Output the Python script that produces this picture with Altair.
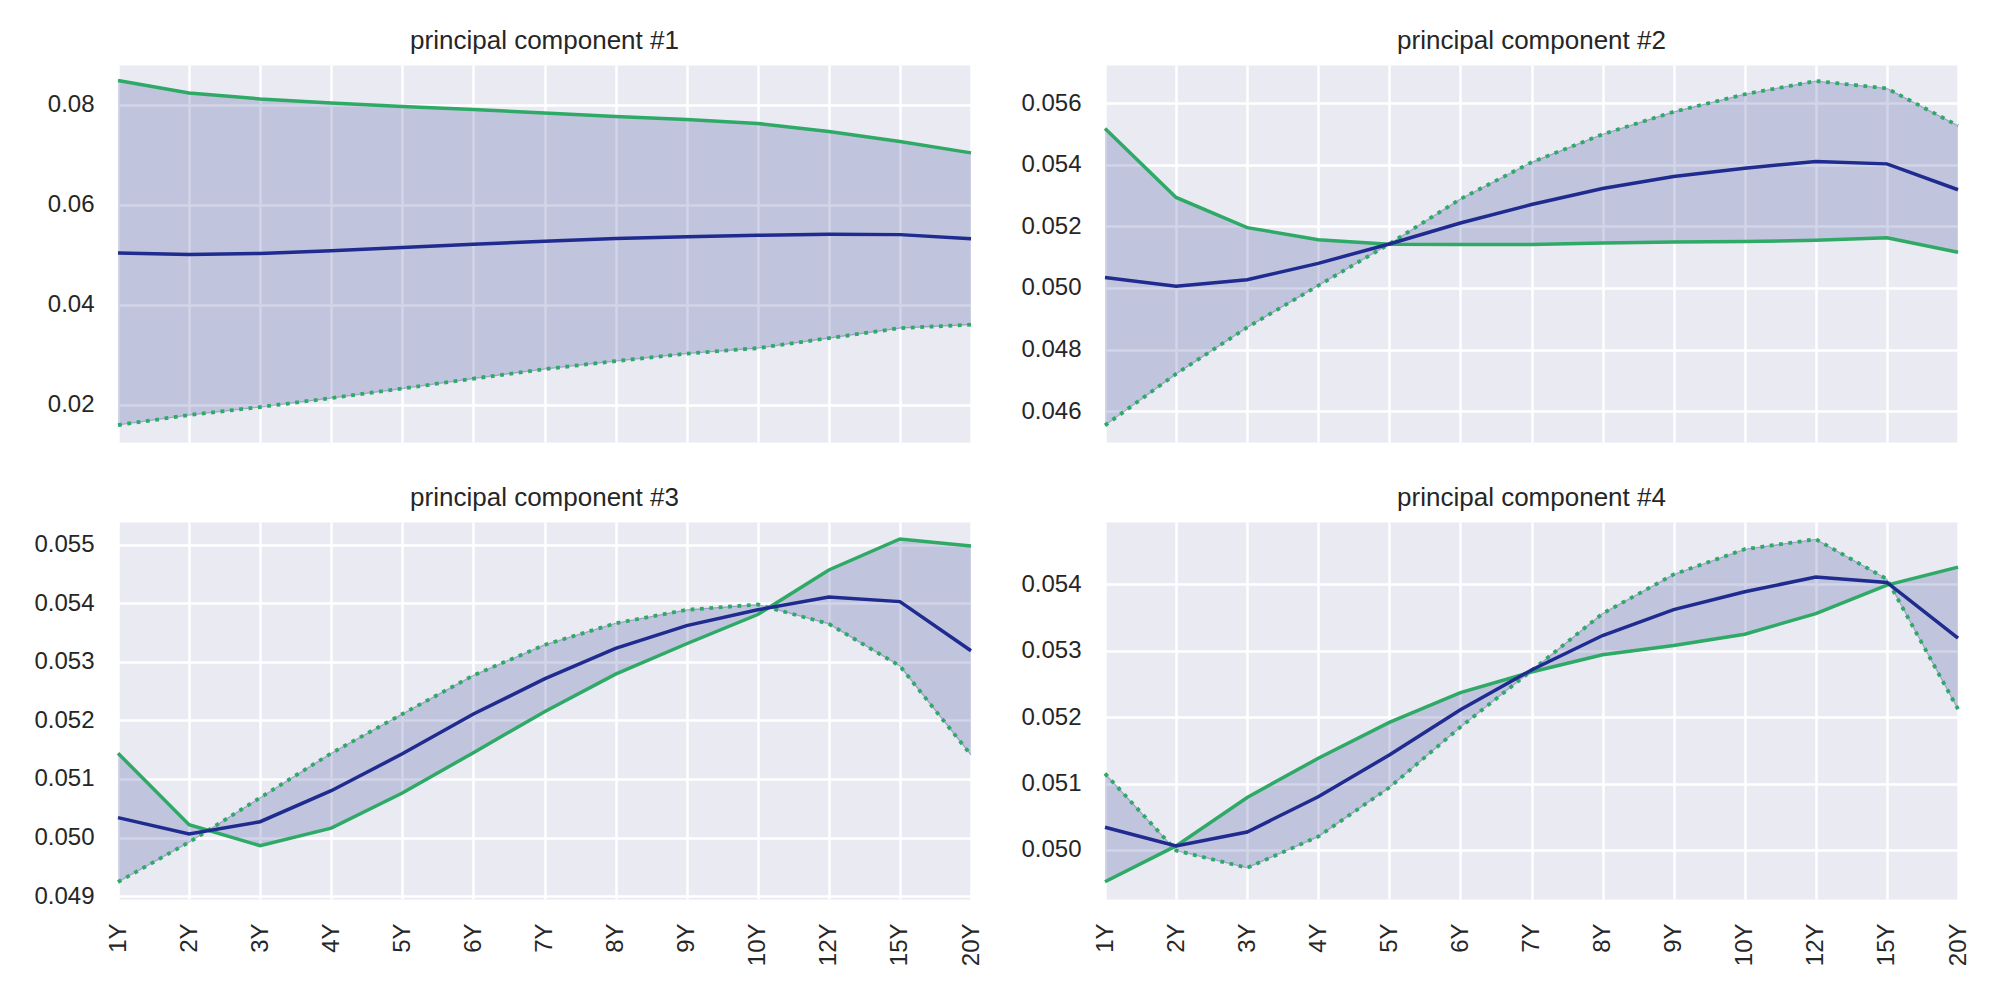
import altair as alt
import pandas as pd

tenors = ["1Y", "2Y", "3Y", "4Y", "5Y", "6Y", "7Y", "8Y", "9Y", "10Y", "12Y", "15Y", "20Y"]

# mean curve (same in every panel)
mean_curve = [0.05034, 0.05006, 0.05027, 0.05080, 0.05143, 0.05211, 0.05271,
              0.05323, 0.05362, 0.05389, 0.05411, 0.05403, 0.05319]

# mean + shock (solid green) / mean - shock (dotted green)
pc1_up = [0.0849, 0.0824, 0.0812, 0.0804, 0.0797, 0.0791, 0.0784, 0.0777, 0.0771, 0.0763, 0.0747, 0.0727, 0.0704]
pc1_down = [0.0159, 0.0179, 0.0195, 0.0213, 0.0232, 0.0252, 0.0271, 0.0287, 0.0302, 0.0313, 0.0333, 0.0353, 0.0360]

pc2_up = [0.05518, 0.05294, 0.05196, 0.05157, 0.05142, 0.05141, 0.05141, 0.05146, 0.05149, 0.05151, 0.05155, 0.05163, 0.05116]
pc2_down = [0.04554, 0.04721, 0.04872, 0.05008, 0.05143, 0.05289, 0.05408, 0.05499, 0.05572, 0.05629, 0.05672, 0.05648, 0.05527]

pc3_up = [0.05144, 0.05022, 0.04986, 0.05016, 0.05076, 0.05145, 0.05215, 0.05279, 0.05331, 0.05381, 0.05457, 0.05510, 0.05498]
pc3_down = [0.04924, 0.04992, 0.05068, 0.05144, 0.05211, 0.05277, 0.05329, 0.05366, 0.05389, 0.05398, 0.05365, 0.05293, 0.05141]

pc4_up = [0.04952, 0.05006, 0.05079, 0.05138, 0.05192, 0.05237, 0.05268, 0.05294, 0.05308, 0.05325, 0.05356, 0.05399, 0.05426]
pc4_down = [0.05115, 0.04999, 0.04973, 0.05020, 0.05094, 0.05185, 0.05270, 0.05356, 0.05415, 0.05453, 0.05468, 0.05408, 0.05212]

titles = ["principal component #1", "principal component #2",
          "principal component #3", "principal component #4"]
y_domains = [[0.0125, 0.0880], [0.04500, 0.05724], [0.04895, 0.05539], [0.04926, 0.05494]]
y_ticks = [[0.02, 0.04, 0.06, 0.08],
           [0.046, 0.048, 0.050, 0.052, 0.054, 0.056],
           [0.049, 0.050, 0.051, 0.052, 0.053, 0.054, 0.055],
           [0.050, 0.051, 0.052, 0.053, 0.054]]
y_formats = [".2f", ".3f", ".3f", ".3f"]

NAVY = "#1f2b8e"
GREEN = "#2eaa66"
FONT = "Liberation Sans"


def panel(title, up, down, domain, ticks, fmt, show_x):
    df = pd.DataFrame({"tenor": tenors, "mean": mean_curve, "up": up, "down": down})
    x = alt.X("tenor:O", sort=None, title=None,
              scale=alt.Scale(type="point", padding=0),
              axis=alt.Axis(labels=show_x, labelAngle=270))
    y_scale = alt.Scale(domain=domain, nice=False, zero=False)
    y_axis = alt.Axis(values=ticks, format=fmt)

    base = alt.Chart(df)
    band = base.mark_area(color=NAVY, opacity=0.2).encode(
        x=x, y=alt.Y("up:Q", scale=y_scale, axis=y_axis, title=None), y2="down:Q"
    )
    edge = base.mark_line(color=NAVY, opacity=0.3, strokeWidth=1.2).encode(
        x=x, y=alt.Y("down:Q", scale=y_scale)
    )
    dotted = base.mark_line(color=GREEN, strokeWidth=3.8, strokeDash=[3.8, 5.6]).encode(
        x=x, y=alt.Y("down:Q", scale=y_scale)
    )
    solid = base.mark_line(color=GREEN, strokeWidth=3.5).encode(
        x=x, y=alt.Y("up:Q", scale=y_scale)
    )
    mean = base.mark_line(color=NAVY, strokeWidth=3.5).encode(
        x=x, y=alt.Y("mean:Q", scale=y_scale)
    )
    return alt.layer(band, edge, dotted, solid, mean).properties(
        width=853, height=377,
        title=alt.TitleParams(title, fontSize=26, font=FONT, fontWeight="normal",
                              color="#262626", offset=11),
    )


panels = []
ups = [pc1_up, pc2_up, pc3_up, pc4_up]
downs = [pc1_down, pc2_down, pc3_down, pc4_down]
for i in range(4):
    panels.append(panel(titles[i], ups[i], downs[i], y_domains[i], y_ticks[i], y_formats[i], i >= 2))

chart = alt.concat(
    *panels, columns=2, bounds="flush",
    spacing=alt.RowColnumber(row=80, column=134),
).properties(
    padding={"left": 25, "top": 19, "right": 10, "bottom": 10},
    background="white",
).configure_view(
    fill="#eaeaf2", stroke="transparent"
).configure_axis(
    grid=True, gridColor="white", gridWidth=2.5, gridOpacity=1,
    domain=False, ticks=False,
    labelFont=FONT, labelFontSize=24, labelColor="#262626", labelPadding=24,
)

chart.save("out.html", embed_options={"renderer": "svg", "actions": False})
